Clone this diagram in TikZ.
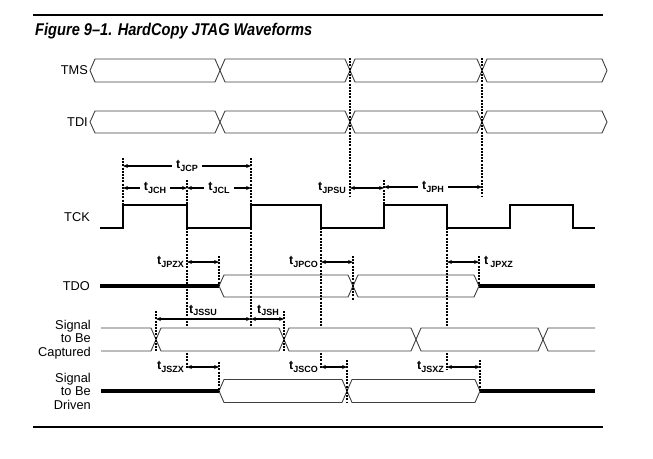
\documentclass[tikz,border=0pt]{standalone}
\usepackage{fontspec}
\setmainfont{Liberation Sans}
\usetikzlibrary{arrows.meta}
\newcommand{\tsub}[1]{t\raisebox{-2.5pt}{\fontsize{9}{10}\selectfont #1}}

\begin{document}
\begin{tikzpicture}[
    x=1pt, y=-1pt,
    sig/.style={font=\fontsize{12.8}{13.5}\selectfont, inner sep=0pt, anchor=east, align=right},
    tlabel/.style={font=\fontsize{12.5}{13}\selectfont\bfseries, inner sep=1pt},
    gap/.style={fill=white, inner xsep=4pt},
    bus/.style={draw=black!75, line width=0.9pt, line join=miter},
    clk/.style={line width=1.6pt},
    hold/.style={line width=3.5pt},
    guideline/.style={dash pattern=on 2pt off 1.2pt, line width=1.5pt},
    dimline/.style={{Stealth[length=5pt,width=4pt]}-{Stealth[length=5pt,width=4pt]}, line width=1.1pt},
    pagerule/.style={line width=1.1pt}
]
\useasboundingbox (0,0) rectangle (653,458);

\coordinate (rt-a) at (33,15);
\coordinate (rt-b) at (603,15);
\coordinate (rb-a) at (33,427);
\coordinate (rb-b) at (603,427);
\draw[pagerule] (rt-a) -- (rt-b);
\draw[pagerule] (rb-a) -- (rb-b);
\node[anchor=base west, inner sep=0pt] (title) at (35,35)
    {\scalebox{0.86}[1]{\fontsize{17}{19}\selectfont\bfseries\itshape Figure 9–1. HardCopy JTAG Waveforms}};

\node[sig] (tms) at (88,70.5) {TMS};
\node[sig] (tdi) at (88,122) {TDI};
\node[sig] (tck) at (90,217) {TCK};
\node[sig] (tdo) at (90,286) {TDO};
\node[sig] (cap) at (91,339.5) {Signal\\to Be\\Captured};
\node[sig] (drv) at (91,391) {Signal\\to Be\\Driven};

\foreach \a/\b in {90/220,220/350,350/482,482/607} {
    \draw[bus] (\a,70.5) -- ({\a+5},59) -- ({\b-5},59) -- (\b,70.5) -- ({\b-5},82) -- ({\a+5},82) -- cycle;
    \draw[bus] (\a,122) -- ({\a+5},111) -- ({\b-5},111) -- (\b,122) -- ({\b-5},133) -- ({\a+5},133) -- cycle;
}

\draw[clk] (100,228) -- (123,228) -- (123,205) -- (187,205) -- (187,228) -- (251,228) -- (251,205)
    -- (321,205) -- (321,228) -- (384,228) -- (384,205) -- (447,205) -- (447,228) -- (510,228)
    -- (510,205) -- (573,205) -- (573,228) -- (595,228);

\draw[hold] (100,286) -- (219,286);
\draw[hold] (479,286) -- (595,286);
\foreach \a/\b in {219/353,353/479}
    \draw[bus] (\a,286) -- ({\a+5},275) -- ({\b-5},275) -- (\b,286) -- ({\b-5},297) -- ({\a+5},297) -- cycle;

\draw[bus] (101,328) -- (151,328) -- (156,339.5) -- (151,351) -- (101,351);
\foreach \a/\b in {156/284,284/416,416/543}
    \draw[bus] (\a,339.5) -- ({\a+5},328) -- ({\b-5},328) -- (\b,339.5) -- ({\b-5},351) -- ({\a+5},351) -- cycle;
\draw[bus] (595,328) -- (548,328) -- (543,339.5) -- (548,351) -- (595,351);

\draw[hold] (101,391) -- (219,391);
\draw[hold] (480,391) -- (595,391);
\foreach \a/\b in {219/347,347/480}
    \draw[bus] (\a,391) -- ({\a+5},379.5) -- ({\b-5},379.5) -- (\b,391) -- ({\b-5},402.5) -- ({\a+5},402.5) -- cycle;

\foreach \x/\ya/\yb in {123/158/205, 187/180/327, 187/353/368, 251/158/327, 321/228/327, 321/353/368,
        350/58/197, 384/180/205, 447/228/327, 447/353/370, 482/58/196,
        219/256/286, 353/256/300, 479/256/286, 156/311/352, 284/311/352,
        219/362/391, 347/360/403, 480/360/391}
    \draw[guideline] (\x,\ya) -- (\x,\yb);

\coordinate (jcp-a) at (123,166);
\coordinate (jcp-b) at (251,166);
\coordinate (jch-a) at (123,188);
\coordinate (jch-b) at (187,188);
\coordinate (jcl-a) at (187,188);
\coordinate (jcl-b) at (251,188);
\coordinate (jpsu-a) at (350,188);
\coordinate (jpsu-b) at (384,188);
\coordinate (jph-a) at (384,187);
\coordinate (jph-b) at (482,187);
\coordinate (jpzx-a) at (187,262);
\coordinate (jpzx-b) at (219,262);
\coordinate (jpco-a) at (321,262);
\coordinate (jpco-b) at (353,262);
\coordinate (jpxz-a) at (447,262);
\coordinate (jpxz-b) at (479,262);
\coordinate (jssu-a) at (156,319);
\coordinate (jssu-b) at (251,319);
\coordinate (jsh-a) at (251,319);
\coordinate (jsh-b) at (284,319);
\coordinate (jszx-a) at (187,367);
\coordinate (jszx-b) at (219,367);
\coordinate (jsco-a) at (321,367);
\coordinate (jsco-b) at (347,367);
\coordinate (jsxz-a) at (447,367);
\coordinate (jsxz-b) at (480,367);

\draw[dimline] (jcp-a) -- node[tlabel, gap] (jcp) {\tsub{JCP}} (jcp-b);
\draw[dimline] (jch-a) -- node[tlabel, gap] (jch) {\tsub{JCH}} (jch-b);
\draw[dimline] (jcl-a) -- node[tlabel, gap] (jcl) {\tsub{JCL}} (jcl-b);
\draw[dimline] (jph-a) -- node[tlabel, gap] (jph) {\tsub{JPH}} (jph-b);
\draw[dimline] (jpsu-a) -- (jpsu-b);
\draw[dimline] (jpzx-a) -- (jpzx-b);
\draw[dimline] (jpco-a) -- (jpco-b);
\draw[dimline] (jpxz-a) -- (jpxz-b);
\draw[dimline] (jssu-a) -- (jssu-b);
\draw[dimline] (jsh-a) -- (jsh-b);
\draw[dimline] (jszx-a) -- (jszx-b);
\draw[dimline] (jsco-a) -- (jsco-b);
\draw[dimline] (jsxz-a) -- (jsxz-b);

\node[tlabel, anchor=east] (jpsu) at (347,188) {\tsub{JPSU}};
\node[tlabel, anchor=east] (jpzx) at (185,262) {\tsub{JPZX}};
\node[tlabel, anchor=east] (jpco) at (319,262) {\tsub{JPCO}};
\node[tlabel, anchor=west] (jpxz) at (483,262) {t\,\raisebox{-2.5pt}{\fontsize{9}{10}\selectfont JPXZ}};
\node[tlabel, anchor=south west] (jssu) at (188,317) {\tsub{JSSU}};
\node[tlabel, anchor=south west] (jsh) at (256,317) {\tsub{JSH}};
\node[tlabel, anchor=east] (jszx) at (185,367) {\tsub{JSZX}};
\node[tlabel, anchor=east] (jsco) at (319,367) {\tsub{JSCO}};
\node[tlabel, anchor=east] (jsxz) at (445,367) {\tsub{JSXZ}};
\end{tikzpicture}
\end{document}
